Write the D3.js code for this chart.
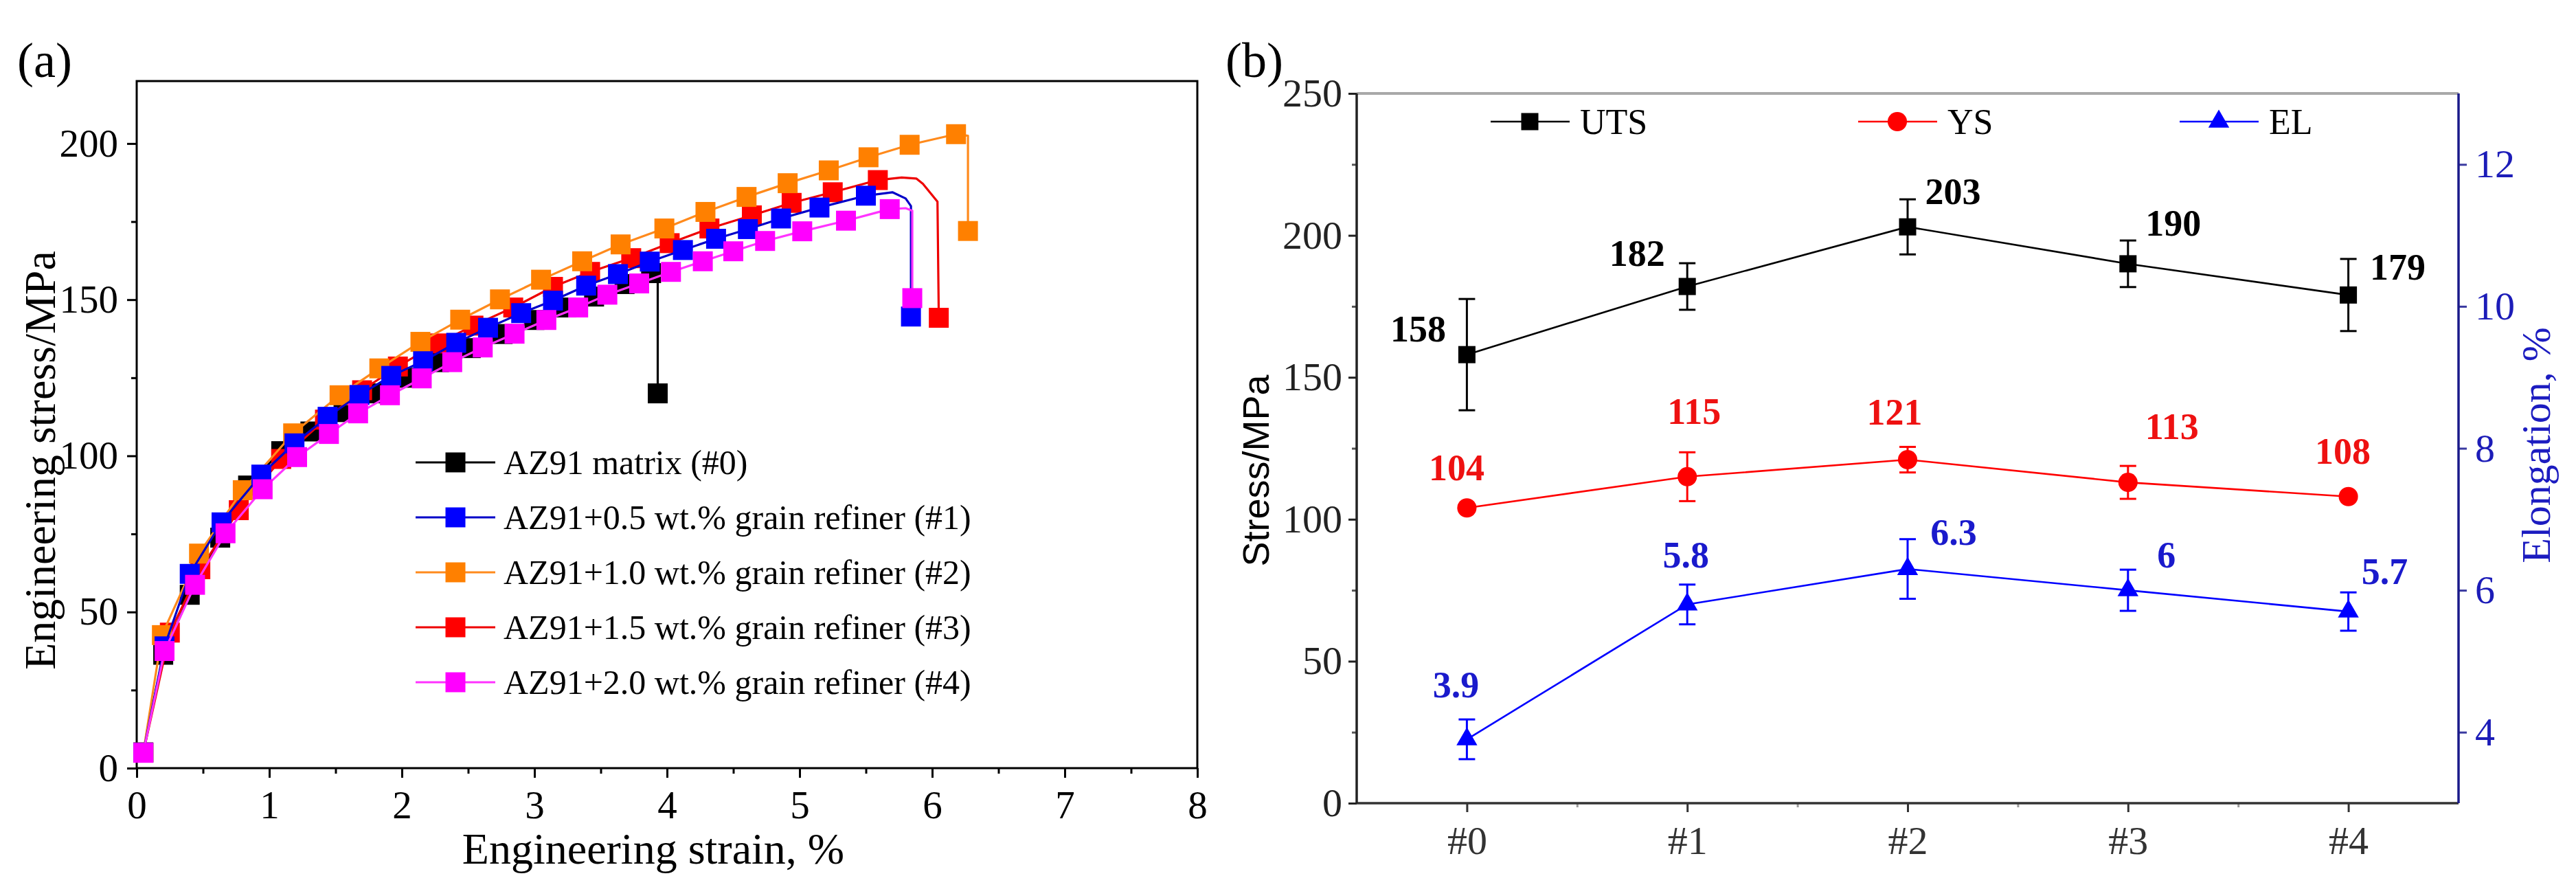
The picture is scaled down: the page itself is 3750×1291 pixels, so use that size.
<!DOCTYPE html>
<html>
<head>
<meta charset="utf-8">
<script src="https://cdn.jsdelivr.net/npm/d3@7"></script>
<style>
  body { margin: 0; background: #fff; }
  svg { display: block; }
</style>
</head>
<body>
<svg id="chart" width="3750" height="1291"></svg>
<script>
// ---- panel (a): tensile curves, [strain %, stress MPa] ----
const curve0 = [[0.05,5],[0.20,36.3],[0.40,55.5],[0.63,73.8],[0.84,90.5],[1.09,101.5],[1.31,107.8],[1.56,114],[1.80,120],[2.04,125],[2.28,130],[2.52,134.5],[2.76,139],[3.00,143.5],[3.24,147.5],[3.45,151],[3.68,155],[3.88,158.5]];
const tail0 = [[3.93,159.2],[3.93,120]];

const curve1 = [[0.05,5],[0.21,39],[0.40,62.2],[0.64,78.7],[0.94,94],[1.19,104],[1.44,112.5],[1.68,119.5],[1.92,125.6],[2.16,130.3],[2.41,136.2],[2.65,141],[2.90,145.7],[3.14,149.7],[3.39,154.5],[3.63,158.2],[3.87,162.2],[4.12,165.9],[4.37,169.5],[4.61,172.6],[4.86,176],[5.15,179.5],[5.50,183.3]];
const tail1 = [[5.70,184.4],[5.80,182.4],[5.84,180],[5.84,144.6]];

const curve2 = [[0.05,5],[0.19,42.6],[0.47,68.7],[0.80,89],[1.18,107.2],[1.53,119.4],[1.83,128],[2.14,136.5],[2.44,143.6],[2.74,150.1],[3.05,156.4],[3.36,162.3],[3.65,167.7],[3.98,172.8],[4.29,178.1],[4.60,182.9],[4.91,187.3],[5.22,191.4],[5.52,195.6],[5.83,199.6],[6.18,203]];
const tail2 = [[6.27,202.5],[6.27,172]];

const curve3 = [[0.05,5],[0.25,43.4],[0.48,63.7],[0.77,82.6],[1.09,99],[1.42,111.6],[1.70,121],[1.97,128.6],[2.27,136],[2.54,141.7],[2.84,147.5],[3.14,154.1],[3.42,158.9],[3.73,163.3],[4.02,168.1],[4.32,172.8],[4.64,177],[4.94,181],[5.25,184.4],[5.59,188.3]];
const tail3 = [[5.77,189.1],[5.88,188.8],[5.93,187.1],[6.04,181.4],[6.05,144.2]];

const curve4 = [[0.05,4.9],[0.21,37.5],[0.44,58.7],[0.67,75.2],[0.95,89.3],[1.21,99.6],[1.45,107],[1.67,113.6],[1.91,119.4],[2.15,124.8],[2.38,130],[2.61,134.7],[2.85,139.1],[3.09,143.5],[3.33,147.5],[3.55,151.6],[3.79,155.2],[4.03,158.9],[4.27,162.3],[4.50,165.5],[4.74,168.8],[5.02,171.9],[5.35,175.3],[5.68,179]];
const tail4 = [[5.80,179.3],[5.85,178.5],[5.85,150.5]];

const seriesNames = [
  "AZ91 matrix (#0)",
  "AZ91+0.5 wt.% grain refiner (#1)",
  "AZ91+1.0 wt.% grain refiner (#2)",
  "AZ91+1.5 wt.% grain refiner (#3)",
  "AZ91+2.0 wt.% grain refiner (#4)"
];
const strainTicks = [0, 1, 2, 3, 4, 5, 6, 7, 8];
const stressTicks = [0, 50, 100, 150, 200];

// ---- panel (b): mechanical properties ----
const groups = ["#0", "#1", "#2", "#3", "#4"];
const uts = [158, 182, 203, 190, 179];
const utsErr = [19.6, 8.2, 9.7, 8.2, 12.7];
const ys = [104, 115, 121, 113, 108];
const ysErr = [1.0, 8.6, 4.5, 5.8, 1.0];
const el = [3.9, 5.8, 6.3, 6, 5.7];
const elErr = [0.28, 0.28, 0.42, 0.29, 0.27];
const propTicks = [0, 50, 100, 150, 200, 250];
const elTicks = [4, 6, 8, 10, 12];

// styling
const serif = '"Liberation Serif", "Times New Roman", serif';
const sans = '"Liberation Sans", Arial, sans-serif';
const lineColors = ["#000000", "#0000c8", "#ff8a1c", "#ee0000", "#ff33ff"];
const markColors = ["#000000", "#0000ff", "#ff8000", "#ff0000", "#ff00ff"];
const drawOrder = [0, 3, 2, 1, 4];
// label offsets (px) for the value labels in panel (b)
const utsLab = [[-71,-19],[-73,-30],[66,-33],[66,-41],[72,-22]];
const ysLab = [[-15,-40],[10,-77],[-19,-51],[64,-63],[-8,-48]];
const elLab = [[-16,-61],[-2,-54],[67,-35],[56,-33],[53,-40]];

const svg = d3.select("#chart");

function styleAxis(g, color, size) {
  g.select(".domain").remove();
  g.selectAll(".tick line").attr("stroke", color).attr("stroke-width", 3);
  g.selectAll(".tick text").attr("font-family", serif).attr("font-size", size).attr("fill", color);
}

// ================= panel (a) =================
const xa = d3.scaleLinear().domain([0, 8]).range([199, 1743]);
const ya = d3.scaleLinear().domain([0, 220]).range([1118, 118]);
const pa = svg.append("g");

pa.append("g").attr("transform", `translate(0,${ya(0)})`)
  .call(d3.axisBottom(xa).tickValues(d3.range(0.5, 8, 1)).tickSize(8).tickFormat(""))
  .call(g => styleAxis(g, "#000", 57));
pa.append("g").attr("transform", `translate(0,${ya(0)})`)
  .call(d3.axisBottom(xa).tickValues(strainTicks).tickSize(14).tickPadding(19))
  .call(g => styleAxis(g, "#000", 57));
pa.append("g").attr("transform", `translate(${xa(0)},0)`)
  .call(d3.axisLeft(ya).tickValues(d3.range(25, 220, 50)).tickSize(8).tickFormat(""))
  .call(g => styleAxis(g, "#000", 57));
pa.append("g").attr("transform", `translate(${xa(0)},0)`)
  .call(d3.axisLeft(ya).tickValues(stressTicks).tickSize(14).tickPadding(13))
  .call(g => styleAxis(g, "#000", 57));

pa.append("rect")
  .attr("x", xa(0)).attr("y", ya(220))
  .attr("width", xa(8) - xa(0)).attr("height", ya(0) - ya(220))
  .attr("fill", "none").attr("stroke", "#000").attr("stroke-width", 3);

const curves = [curve0, curve1, curve2, curve3, curve4];
const tails = [tail0, tail1, tail2, tail3, tail4];
const lineA = d3.line().x(d => xa(d[0])).y(d => ya(d[1]));
const sq = d3.symbol().type(d3.symbolSquare).size(29 * 29);

drawOrder.forEach(i => {
  const g = pa.append("g");
  g.append("path").attr("d", lineA(curves[i].concat(tails[i])))
    .attr("fill", "none").attr("stroke", lineColors[i]).attr("stroke-width", 3.2)
    .attr("stroke-linejoin", "round");
  const marks = curves[i].concat([tails[i][tails[i].length - 1]]);
  g.selectAll("path.m").data(marks).join("path").attr("class", "m")
    .attr("d", sq).attr("transform", d => `translate(${xa(d[0])},${ya(d[1])})`)
    .attr("fill", markColors[i]);
});

// legend (a)
const legA = pa.append("g");
seriesNames.forEach((name, i) => {
  const y = 673 + i * 80;
  legA.append("line").attr("x1", 605).attr("x2", 721).attr("y1", y).attr("y2", y)
    .attr("stroke", lineColors[i]).attr("stroke-width", 3.2);
  legA.append("path").attr("d", sq).attr("transform", `translate(663,${y})`).attr("fill", markColors[i]);
  legA.append("text").attr("x", 733).attr("y", y).attr("dy", "0.34em")
    .attr("font-family", serif).attr("font-size", 50).text(name);
});

pa.append("text").attr("x", 951).attr("y", 1257).attr("text-anchor", "middle")
  .attr("font-family", serif).attr("font-size", 64).text("Engineering strain, %");
pa.append("text").attr("transform", "translate(80,670) rotate(-90)").attr("text-anchor", "middle")
  .attr("font-family", serif).attr("font-size", 64).text("Engineering stress/MPa");
pa.append("text").attr("x", 25).attr("y", 112)
  .attr("font-family", serif).attr("font-size", 72).text("(a)");

// ================= panel (b) =================
const xb = d3.scaleLinear().domain([-0.5, 4.5]).range([1975, 3579]);
const yb = d3.scaleLinear().domain([0, 250]).range([1169, 136]);
const yr = d3.scaleLinear().domain([3, 13]).range([1169, 136]);
const pb = svg.append("g");

// frame
pb.append("line").attr("x1", xb(-0.5)).attr("x2", xb(4.5)).attr("y1", yb(250)).attr("y2", yb(250))
  .attr("stroke", "#a8a8a8").attr("stroke-width", 4);

pb.append("g").attr("transform", `translate(0,${yb(0)})`)
  .call(d3.axisBottom(xb).tickValues(d3.range(0.5, 4, 1)).tickSize(6).tickFormat(""))
  .call(g => styleAxis(g, "#9a9a9a", 58));
pb.append("g").attr("transform", `translate(0,${yb(0)})`)
  .call(d3.axisBottom(xb).tickValues(d3.range(groups.length)).tickSize(13).tickPadding(20)
    .tickFormat(i => groups[i]))
  .call(g => styleAxis(g, "#333", 58));
pb.append("g").attr("transform", `translate(${xb(-0.5)},0)`)
  .call(d3.axisLeft(yb).tickValues(d3.range(25, 250, 50)).tickSize(7).tickFormat(""))
  .call(g => styleAxis(g, "#555", 58));
pb.append("g").attr("transform", `translate(${xb(-0.5)},0)`)
  .call(d3.axisLeft(yb).tickValues(propTicks).tickSize(12).tickPadding(9))
  .call(g => styleAxis(g, "#222", 58));
pb.append("g").attr("transform", `translate(${xb(4.5)},0)`)
  .call(d3.axisRight(yr).tickValues(elTicks).tickSize(12).tickPadding(12))
  .call(g => styleAxis(g, "#1c1cb8", 58))
  .call(g => g.selectAll(".tick line").attr("stroke", "#3a3aa0"));

pb.append("line").attr("x1", xb(-0.5)).attr("x2", xb(4.5)).attr("y1", yb(0)).attr("y2", yb(0))
  .attr("stroke", "#333").attr("stroke-width", 3.5);
pb.append("line").attr("x1", xb(-0.5)).attr("x2", xb(-0.5)).attr("y1", yb(0)).attr("y2", yb(250))
  .attr("stroke", "#222").attr("stroke-width", 3.5);
pb.append("line").attr("x1", xb(4.5)).attr("x2", xb(4.5)).attr("y1", yb(0)).attr("y2", yb(250))
  .attr("stroke", "#1a1a8a").attr("stroke-width", 3.5);

const props = [
  { vals: uts, err: utsErr, y: yb, color: "#000", labColor: "#000", lab: utsLab,
    sym: d3.symbol().type(d3.symbolSquare).size(25 * 25) },
  { vals: ys, err: ysErr, y: yb, color: "#ff0000", labColor: "#ee1111", lab: ysLab,
    sym: d3.symbol().type(d3.symbolCircle).size(620) },
  { vals: el, err: elErr, y: yr, color: "#0000ff", labColor: "#1a1acc", lab: elLab,
    sym: d3.symbol().type(d3.symbolTriangle).size(400) }
];

props.forEach(p => {
  const g = pb.append("g");
  const line = d3.line().x((d, i) => xb(i)).y(d => p.y(d));
  g.append("path").attr("d", line(p.vals)).attr("fill", "none")
    .attr("stroke", p.color).attr("stroke-width", 2.6);
  p.vals.forEach((v, i) => {
    const x = xb(i), y0 = p.y(v - p.err[i]), y1 = p.y(v + p.err[i]);
    g.append("line").attr("x1", x).attr("x2", x).attr("y1", y0).attr("y2", y1)
      .attr("stroke", p.color).attr("stroke-width", 3);
    [y0, y1].forEach(yy => g.append("line").attr("x1", x - 12).attr("x2", x + 12)
      .attr("y1", yy).attr("y2", yy).attr("stroke", p.color).attr("stroke-width", 3));
    g.append("path").attr("d", p.sym).attr("transform", `translate(${x},${p.y(v)})`)
      .attr("fill", p.color);
    g.append("text").attr("x", x + p.lab[i][0]).attr("y", p.y(v) + p.lab[i][1])
      .attr("text-anchor", "middle").attr("font-family", serif).attr("font-weight", "bold")
      .attr("font-size", 54).attr("fill", p.labColor).text(String(v));
  });
});

// legend (b)
const legB = [
  { name: "UTS", x: 2170, p: props[0] },
  { name: "YS", x: 2705, p: props[1] },
  { name: "EL", x: 3173, p: props[2] }
];
legB.forEach(d => {
  const y = 177;
  pb.append("line").attr("x1", d.x).attr("x2", d.x + 115).attr("y1", y).attr("y2", y)
    .attr("stroke", d.p.color).attr("stroke-width", 2.6);
  pb.append("path").attr("d", d.p.sym).attr("transform", `translate(${d.x + 57},${y})`)
    .attr("fill", d.p.color);
  pb.append("text").attr("x", d.x + 130).attr("y", y).attr("dy", "0.34em")
    .attr("font-family", serif).attr("font-size", 52).text(d.name);
});

pb.append("text").attr("transform", "translate(1847,685) rotate(-90)").attr("text-anchor", "middle")
  .attr("font-family", sans).attr("font-size", 54).text("Stress/MPa");
pb.append("text").attr("transform", "translate(3712,648) rotate(-90)").attr("text-anchor", "middle")
  .attr("font-family", serif).attr("font-size", 60).attr("fill", "#1c1cc0").text("Elongation, %");
pb.append("text").attr("x", 1784).attr("y", 112)
  .attr("font-family", serif).attr("font-size", 72).text("(b)");
</script>
</body>
</html>
